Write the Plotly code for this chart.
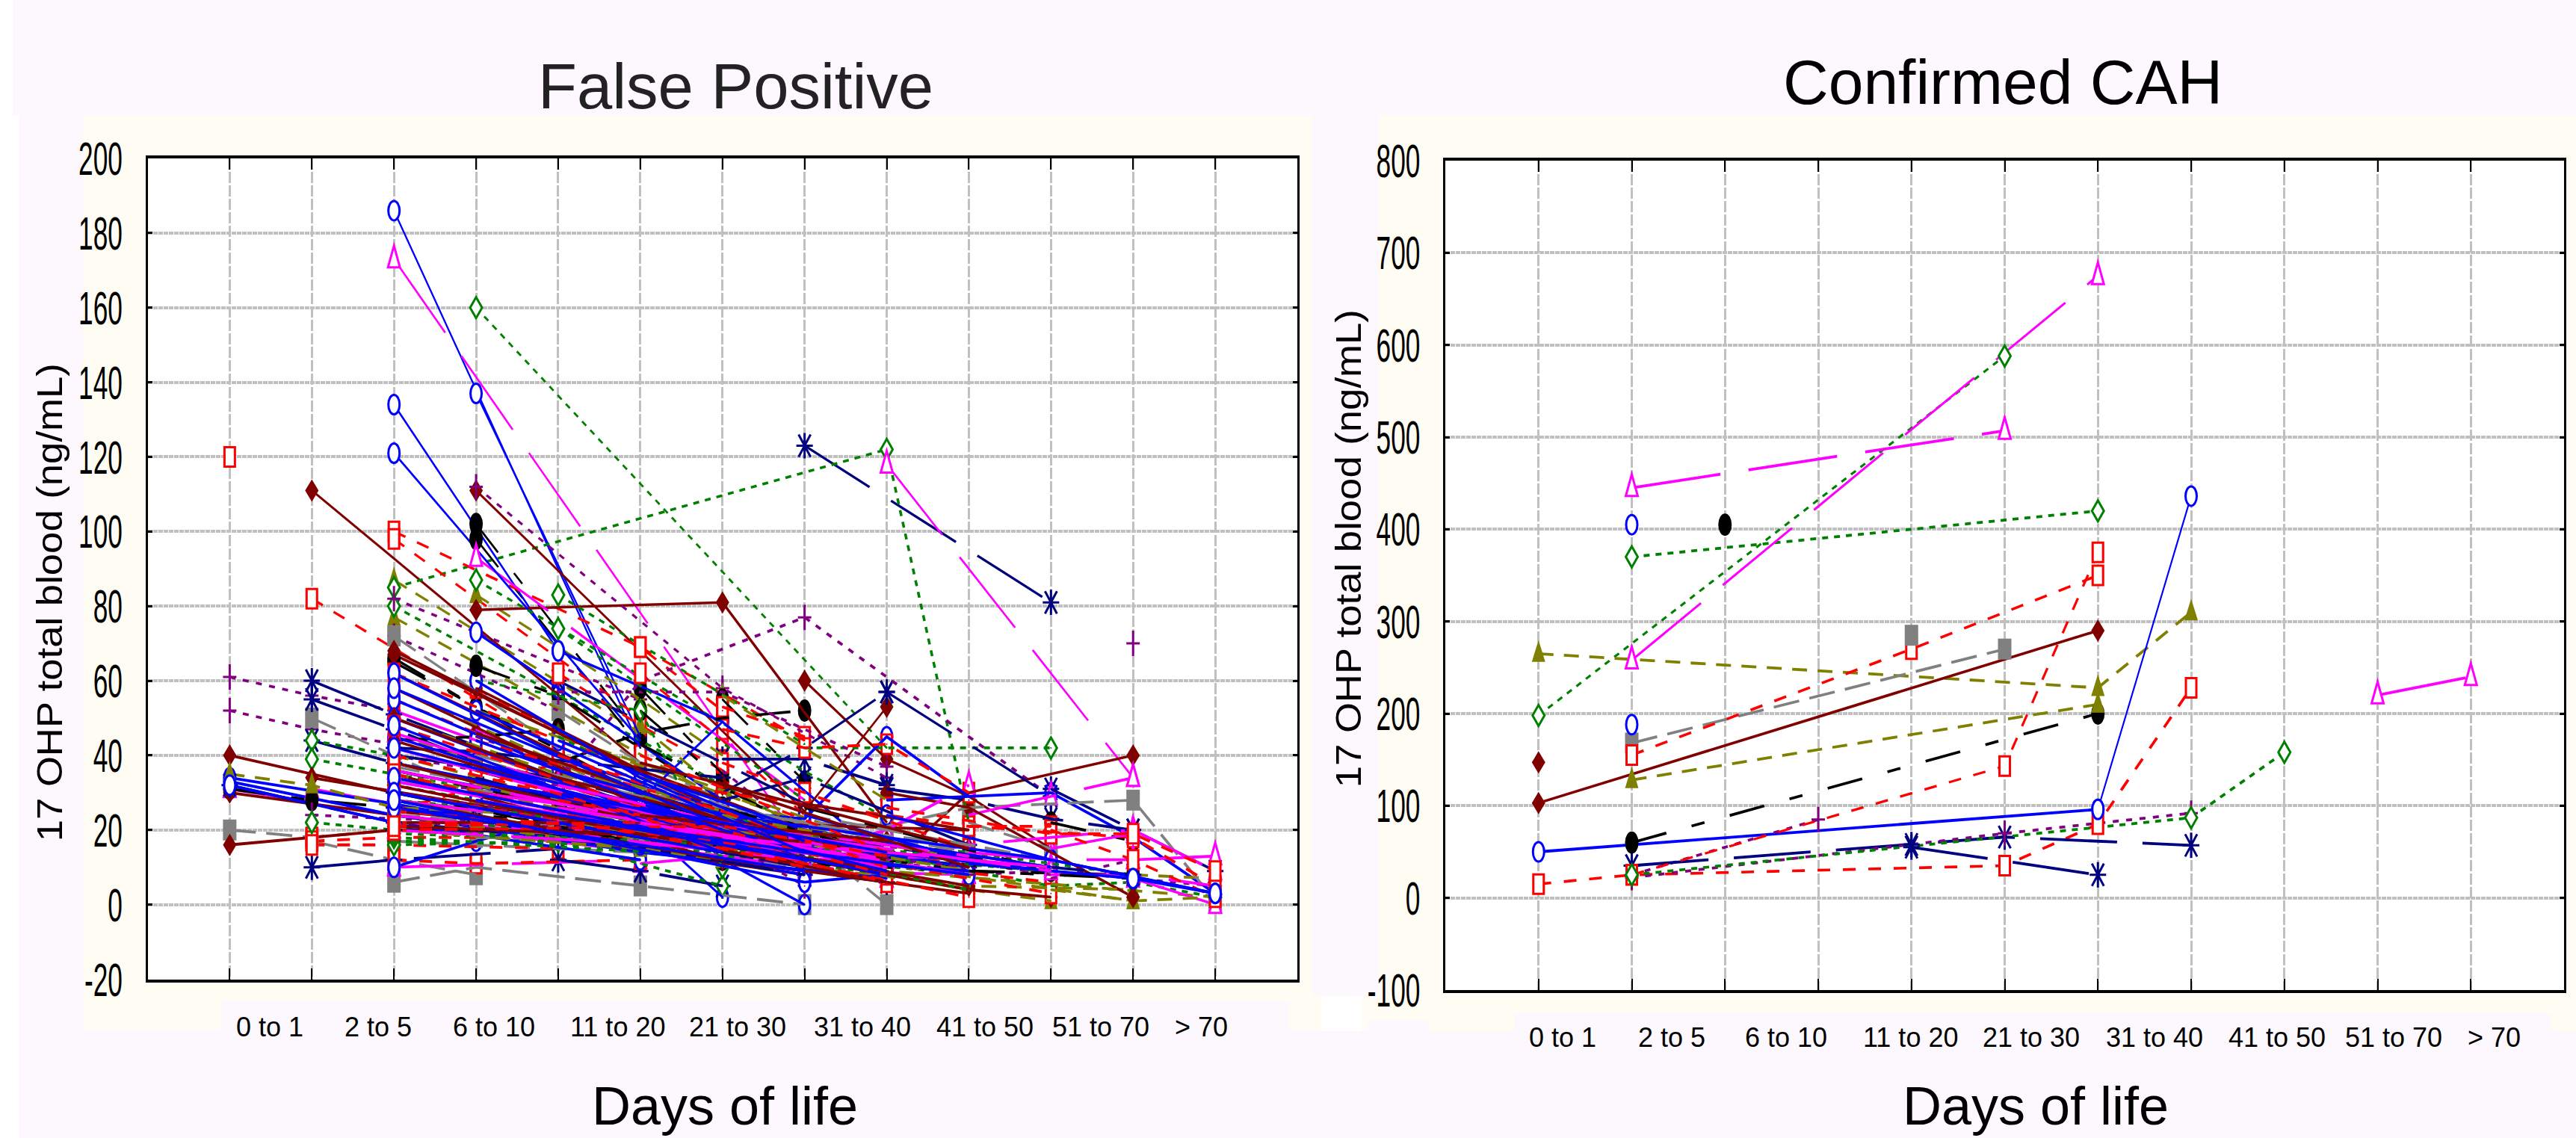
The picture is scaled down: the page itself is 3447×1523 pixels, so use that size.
import math
import plotly.graph_objects as go

W, H = 3447, 1523
days = ["0 to 1", "2 to 5", "6 to 10", "11 to 20", "21 to 30", "31 to 40", "41 to 50", "51 to 70", "> 70"]

# ---------- False Positive: one list per patient, (tick number, value) ----------
fp_blue = [
    [(3,186),(6,42)], [(4,137),(6,45)], [(3,134),(5,68)],
    [(3,121),(6,44)], [(5,68),(7,49),(9,12)], [(4,73),(5,58),(7,28),(9,8)],
    [(6,22),(7,2)], [(7,12),(8,0)], [(8,6),(9,8)],
    [(7,25),(8,23),(9,45),(10,29),(11,30),(12,18),(13,3)], [(6,28),(7,49)], [(9,28),(10,29)],
    [(1,34),(3,27),(5,19),(8,8)], [(1,33),(3,24),(6,14),(9,7)], [(1,32),(3,22),(6,12)],
    [(3,10),(4,17),(5,23)], [(3,62),(5,40),(8,16)], [(3,55),(6,27),(8,13)], [(3,50),(6,25),(9,11)],
    [(3,45),(7,17)], [(3,38),(6,24),(10,10)], [(3,36),(7,19),(11,9)], [(4,60),(6,34),(8,15)],
    [(4,38),(6,27),(9,10)], [(5,36),(7,24),(11,12),(13,3)], [(6,35),(8,20),(11,10)],
    [(9,24),(11,12),(13,3)], [(10,11),(12,7),(13,3)], [(5,30),(8,12),(10,9)], [(4,33),(7,22),(9,13)],
    [(8,24),(10,12)],
]
fp_blue_more = [[(3,58),(8,12)], [(3,48),(7,14)], [(3,42),(9,9)], [(3,34),(6,21),(9,8)], [(3,30),(7,14)],
    [(3,26),(6,16),(8,9)], [(4,52),(8,14)], [(4,44),(7,20)], [(4,28),(8,12)], [(5,44),(8,17)],
    [(5,24),(8,14),(10,8)], [(6,26),(9,14)], [(3,28),(8,6)]]
fp_red = [
    [(1,120)], [(2,82),(5,42)], [(3,100),(6,69),(7,52)], [(3,98),(6,50)],
    [(6,69),(8,44)], [(6,62),(7,44),(8,24)], [(5,62),(6,48),(7,36)], [(4,58),(6,34),(8,17)],
    [(2,18),(3,20),(8,17),(9,16)], [(2,17),(3,18),(6,18)], [(2,16),(3,16),(5,15)], [(3,12),(4,11),(6,12)],
    [(4,41),(6,26),(7,20)], [(3,62),(5,44),(8,20)], [(3,55),(6,28),(10,10)], [(7,53),(8,45)],
    [(7,47),(8,42),(9,43),(10,30)], [(3,25),(5,38),(7,30),(10,21),(12,18),(13,5)], [(10,21),(11,21)],
    [(11,20),(12,12),(13,2)], [(9,26),(11,19),(12,19),(13,9)], [(8,20),(9,11),(11,6)], [(4,44),(7,25),(9,12)],
    [(3,25),(6,20),(10,2)], [(5,32),(8,15),(11,3)], [(7,38),(8,30),(10,15)], [(6,22),(9,6)],
]
fp_red_more = [[(3,48),(8,12)], [(3,40),(6,24),(9,10)], [(3,35),(8,10)], [(3,30),(7,15)], [(4,36),(7,17)],
    [(4,30),(8,11)], [(5,40),(9,10)], [(5,28),(7,20),(9,8)], [(3,22),(5,22),(8,14)], [(3,20),(7,21),(9,13)],
    [(3,21),(6,22)], [(6,40),(9,14)]]
fp_green = [
    [(4,160),(9,42)], [(3,85),(9,122),(10,22)], [(3,80),(8,20)],
    [(4,87),(9,23)], [(5,83),(8,43)], [(5,74),(8,28)], [(8,42),(11,42)],
    [(2,44),(3,40)], [(2,39),(3,35),(4,31)], [(3,21),(6,17),(10,8)], [(2,22),(3,20),(7,14),(9,8)],
    [(3,17),(6,16)], [(3,16),(5,17),(7,5)], [(9,16),(10,14),(12,8)], [(10,9),(11,5),(12,6),(13,2)],
    [(4,60),(6,52),(7,10)], [(3,28),(6,22),(10,4)], [(5,45),(7,24),(9,14)], [(3,18),(7,13),(11,10)],
    [(6,30),(8,14),(11,9)],
]
fp_green_more = [[(3,32),(7,16)], [(4,26),(8,14)], [(5,22),(9,12)], [(7,20),(10,12)], [(3,24),(8,12)],
    [(3,19),(8,16)], [(3,20),(9,14)]]
fp_black = [
    [(4,102),(6,45)], [(4,98),(6,42)], [(3,66),(5,40),(6,32)], [(3,65),(4,53),(6,30)],
    [(4,64),(5,56),(7,28)], [(5,38),(6,46),(7,50),(8,52)], [(3,44),(4,45),(5,47)], [(1,31),(2,28),(3,26),(5,22)],
    [(6,58),(7,35)], [(6,52),(7,33)], [(7,55),(8,33)], [(3,36),(6,22),(9,10)], [(4,36),(7,18),(10,9)],
    [(6,43),(8,20),(10,9)], [(6,19),(8,14),(11,9)], [(10,9),(12,8)], [(11,22),(12,17)], [(5,26),(8,11),(12,7)],
]
fp_black_more = [[(3,30),(7,12)], [(4,28),(8,12)], [(5,30),(7,15)], [(7,26),(9,13)], [(8,26),(11,9)]]
fp_purple = [
    [(1,61),(2,56),(3,52)], [(1,52),(2,47),(3,43)], [(3,82),(6,55)], [(3,72),(5,52)],
    [(4,112),(7,58),(9,34)], [(5,32),(6,60),(8,77),(11,29)],
    [(5,57),(7,57),(9,37)], [(2,24),(3,23),(7,20),(10,8)], [(3,33),(4,31),(8,18),(11,8)],
    [(3,20),(6,20),(10,14)], [(10,8),(11,9),(13,5)], [(12,70)], [(11,7),(12,12)], [(7,36),(8,18),(9,12)],
    [(4,45),(6,30),(8,5)], [(3,40),(5,32),(8,15)], [(5,38),(7,23),(10,9)],
]
fp_purple_more = [[(3,30),(7,17)], [(4,26),(8,14)], [(5,28),(9,10)], [(6,26),(9,16)], [(3,26),(8,9)],
    [(7,17),(10,10)], [(3,22),(8,19)]]
fp_olive = [
    [(3,87),(6,46)], [(3,77),(7,28)], [(4,83),(6,55),(7,40)], [(3,58),(5,38),(8,14)],
    [(3,50),(5,35),(9,16)], [(3,45),(5,33),(8,14)], [(4,52),(6,38),(9,16)], [(5,45),(8,22),(11,8)],
    [(7,56),(8,42),(9,28)], [(3,30),(6,21),(10,4),(11,1)], [(8,10),(10,5),(12,4)], [(11,4),(12,1)],
    [(12,8),(13,7)], [(1,35),(2,32),(3,26),(5,24)], [(6,48),(7,30),(9,13)], [(4,38),(7,24),(10,9)],
    [(3,22),(6,18),(9,9),(13,2)], [(5,30),(8,14),(12,1),(13,2)],
]
fp_olive_more = [[(3,40),(7,17)], [(3,35),(8,12)], [(4,46),(8,13)], [(4,32),(7,17)], [(5,38),(9,12)],
    [(5,22),(9,11)], [(6,24),(10,9)], [(3,24),(7,12)], [(7,24),(10,12)], [(3,20),(6,15)]]
fp_navy = [
    [(8,123),(11,81)], [(2,60),(3,51),(5,34)], [(2,55),(3,47),(5,30)], [(2,44),(3,38),(5,29)], [(2,10),(3,12),(5,15)],
    [(5,60),(8,27)], [(7,39),(8,39),(9,32)], [(9,57),(11,29)], [(7,30),(8,42),(9,57)],
    [(9,31),(10,28),(11,23),(12,20)], [(11,31),(12,20),(13,9)], [(5,12),(6,9),(7,5)], [(1,32),(3,22),(5,18),(9,6)],
    [(3,20),(6,20)], [(3,42),(4,41),(7,34)], [(3,40),(5,34),(7,22)], [(7,28),(8,34),(10,16)], [(5,28),(7,18),(10,10)],
    [(8,18),(11,10),(12,8)],
]
fp_navy_more = [[(3,30),(7,14)], [(3,26),(8,8)], [(4,34),(7,16)], [(4,26),(8,10)], [(5,22),(8,10)], [(6,28),(9,12)]]
fp_gray = [
    [(1,20),(2,18)], [(2,50),(3,40),(4,30)], [(3,6),(4,10),(6,5),(8,0)], [(2,17),(3,12),(4,8)], [(3,72),(5,42)],
    [(5,52),(6,38),(7,28)], [(6,35),(8,18),(9,0)], [(3,37),(7,20),(9,15)], [(3,17),(6,14),(8,10)],
    [(3,33),(6,26),(10,16)], [(5,25),(9,21)], [(4,25),(8,20)], [(9,21),(10,26),(12,28),(13,1)], [(10,22),(11,15)],
]
fp_gray_more = [[(3,28),(8,16)], [(3,24),(7,18)], [(4,40),(8,18)], [(5,36),(9,17)], [(6,30),(10,14)],
    [(4,18),(7,17)], [(8,24),(11,12)]]
fp_darkred = [
    [(2,111),(6,38)], [(4,111),(8,25)], [(4,79),(7,81),(9,22)],
    [(8,60),(9,39),(10,29),(11,15)], [(8,25),(9,53)], [(9,10),(10,30),(12,40)], [(3,68),(5,46),(8,14)],
    [(3,67),(7,25),(9,11)], [(1,40),(3,30),(7,15)], [(1,30),(3,24),(8,8)], [(1,16),(3,20),(7,19),(8,17)],
    [(3,62),(6,30),(9,12)], [(2,34),(8,12),(10,4),(11,2)], [(9,30),(10,26),(12,2)], [(3,25),(6,19),(9,9)],
    [(4,58),(6,36),(9,12)], [(5,26),(7,22),(10,20)], [(8,27),(10,20)],
    [(3,35),(7,12),(10,3)], [(12,2)], [(4,30),(8,20),(11,10)],
]
fp_darkred_more = [[(3,58),(7,16)], [(3,50),(8,10)], [(3,44),(7,17)], [(3,38),(8,12)], [(3,32),(9,6)], [(3,28),(7,12)],
    [(4,46),(8,15)], [(4,36),(9,9)], [(5,34),(9,12)], [(3,22),(6,22),(9,14)], [(3,21),(8,17)], [(5,24),(10,5)],
    [(6,38),(10,15)], [(7,32),(10,10)], [(6,24),(9,17)]]
fp_magenta = [
    [(3,173),(8,15)], [(9,118),(12,34)], [(4,93),(8,28)], [(1,31),(3,24),(7,13),(9,7)],
    [(2,31),(4,23),(6,16)], [(3,52),(6,28),(9,12)], [(3,30),(6,19),(8,10)], [(3,26),(7,15),(9,7)], [(3,22),(8,9),(10,8)],
    [(3,10),(6,12)], [(6,11),(8,15)], [(4,47),(6,28),(8,13)], [(10,24),(11,29),(12,34)], [(9,12),(10,16),(12,20),(13,9)],
    [(12,12),(13,13)], [(11,8),(12,8),(13,5)], [(12,7),(13,0)], [(11,15),(12,19)], [(10,14),(11,12),(12,12)],
    [(3,28),(8,14),(9,20),(10,32)], [(5,25),(8,12),(10,13)], [(4,30),(8,18),(9,8)],
]
fp_magenta_more = [[(3,46),(8,12)], [(3,42),(7,18)], [(3,36),(8,14)], [(3,33),(9,10)], [(3,24),(8,12)], [(3,20),(7,15)],
    [(4,36),(8,14)], [(4,28),(9,10)], [(5,32),(9,12)], [(5,26),(10,8)], [(6,22),(9,11)], [(7,22),(10,13)],
    [(7,18),(11,10)], [(8,18),(11,9)]]

# ---------- Confirmed CAH ----------
cah_blue = [[(1,50),(7,96)], [(7,96),(8,436)], [(2,405)], [(2,188)]]
cah_red = [[(1,15),(2,25),(6,35),(7,80),(8,228)], [(2,155),(5,270),(7,350)], [(2,25),(6,143),(7,375)]]
cah_green = [[(1,198),(6,588)], [(2,370),(7,420)], [(2,25),(8,87),(9,158)]]
cah_black = [[(3,405)], [(2,60),(7,200)]]
cah_purple = [[(2,25),(4,85)], [(2,22),(6,70),(8,92)]]
cah_olive = [[(1,265),(7,228),(8,310)], [(2,128),(7,210)]]
cah_navy = [[(2,35),(5,58),(6,66),(8,57)], [(5,55),(7,25)]]
cah_gray = [[(2,168),(6,270)], [(5,285)]]
cah_darkred = [[(1,147)], [(1,103),(7,290)]]
cah_magenta = [[(2,445),(6,507)], [(2,258),(7,675)], [(10,220),(11,240)]]

# style of each group: colour, line dash, marker kind
STYLE = {
    "blue": ("#0000FF", "solid", "ring"),
    "red": ("#FF0000", "17px,17px", "box"),
    "green": ("#008000", "8px,8px", "dia_open"),
    "black": ("#000000", "48px,35px,18px,35px", "oval"),
    "purple": ("#800080", "8px,10px", "plus"),
    "olive": ("#808000", "20px,14px", "tri_fill"),
    "navy": ("#000080", "103px,34px", "star"),
    "gray": ("#808080", "35px,14px", "box_fill"),
    "darkred": ("#800000", "solid", "dia_fill"),
    "magenta": ("#FF00FF", "120px,38px", "tri_open"),
}
fp = dict(blue=fp_blue + fp_blue_more, red=fp_red + fp_red_more, green=fp_green + fp_green_more,
          black=fp_black + fp_black_more, purple=fp_purple + fp_purple_more, olive=fp_olive + fp_olive_more,
          navy=fp_navy + fp_navy_more, gray=fp_gray + fp_gray_more, darkred=fp_darkred + fp_darkred_more,
          magenta=fp_magenta + fp_magenta_more)
cah = dict(blue=cah_blue, red=cah_red, green=cah_green, black=cah_black, purple=cah_purple, olive=cah_olive,
           navy=cah_navy, gray=cah_gray, darkred=cah_darkred, magenta=cah_magenta)

PATHS = {
    "dia_open": "M 0 14 L 8 0 L 0 -14 L -8 0 Z",
    "dia_fill": "M 0 15 L 9 0 L 0 -15 L -9 0 Z",
    "tri_fill": "M 0 18 L 9 -11 L -9 -11 Z",
    "tri_open": "M 0 18 L 8 -11 L -8 -11 Z",
    "plus": "M 0 17 L 0 -17 M -9 0 L 9 0",
    "star": "M 0 17 L 0 -17 M -11 0 L 11 0 M -8 15 L 8 -15 M 8 15 L -8 -15",
    "box": "M -7 13 L 7 13 L 7 -13 L -7 -13 Z",
    "box_fill": "M -9 14 L 9 14 L 9 -14 L -9 -14 Z",
}

def marker_shape(kind, color, x, y, xr, yr, layer):
    s = dict(xref=xr, yref=yr, xsizemode="pixel", ysizemode="pixel", xanchor=x, yanchor=y, layer=layer)
    if kind in ("ring", "oval"):
        hw, hh = (7.5, 13) if kind == "ring" else (9, 15)
        s.update(type="circle", x0=-hw, x1=hw, y0=-hh, y1=hh)
    else:
        s.update(type="path", path=PATHS[kind])
    filled = kind in ("oval", "dia_fill", "tri_fill", "box_fill")
    s["line"] = dict(color=color, width=0 if filled else 3)
    s["fillcolor"] = color if filled else "#FFFFFF" if kind in ("ring", "box", "dia_open", "tri_open") else "rgba(0,0,0,0)"
    return s

fig = go.Figure()
shapes = []

def rect(x0, y0, x1, y1, color):
    shapes.append(dict(type="rect", xref="paper", yref="paper", layer="below", line=dict(width=0), fillcolor=color,
                       x0=x0 / W, x1=x1 / W, y0=1 - y1 / H, y1=1 - y0 / H))

LAV, CREAM = "#FDF8FE", "#FFFCF3"
rect(17, 0, W, 155, LAV)
rect(25, 155, W, H, LAV)
rect(111, 155, 1756, 1378, CREAM)
rect(295, 1340, 1725, 1378, LAV)
rect(1756, 1333, 1845, 1380, CREAM)
rect(1845, 155, W, 1380, CREAM)
rect(1768, 1333, 1822, 1380, "#FFFFFF")
rect(1829, 1366, 1913, 1380, LAV)
rect(2026, 1356, 3413, 1380, LAV)
rect(197.5, 212, 1739, 1316, "#FFFFFF")
rect(1934, 215, 3434, 1330, "#FFFFFF")

def add_group(groups, xa, ya, px_x, px_y, dense):
    n = max(len(v) for v in groups.values())
    marks = []
    for i in range(n):
        for name, rows in groups.items():
            if i >= len(rows):
                continue
            color, dash, kind = STYLE[name]
            xs = [p[0] for p in rows[i]]
            ys = [p[1] for p in rows[i]]
            # the reference is squeezed sideways: flat lines look thicker than steep ones
            ang = math.atan2(abs(ys[-1] - ys[0]) * px_y, max(abs(xs[-1] - xs[0]) * px_x, 1))
            width = 2.0 + 1.8 * math.cos(ang) ** 2
            fig.add_trace(go.Scatter(x=xs, y=ys, xaxis=xa, yaxis=ya, mode="lines+markers", showlegend=False,
                                     line=dict(color=color, width=width, dash=dash),
                                     marker=dict(color=color, size=2)))
            for x, y in rows[i]:
                hidden = dense and 4 <= x <= 11 and y < 62
                marks.append(marker_shape(kind, color, x, y, xa, ya, "between" if hidden else "above"))
    shapes.extend(marks)

add_group(fp, "x", "y", 110, 5, True)
add_group(cah, "x2", "y2", 124.6, 1.23, False)

def axis_x(l, r, n):
    return dict(domain=[l / W, r / W], range=[0, n + 1], tickvals=list(range(1, n + 1)), ticktext=[""] * n,
                ticks="inside", ticklen=15, tickwidth=2, tickcolor="black", showline=True, linecolor="black",
                linewidth=3.5, mirror="allticks", showgrid=True, gridcolor="#C0C0C0", gridwidth=2.5,
                griddash="15px,3px", zeroline=False, automargin=False)

def axis_y(t, b, lo, hi, step):
    vals = list(range(lo, hi + 1, step))
    return dict(domain=[1 - b / H, 1 - t / H], range=[lo, hi], tickvals=vals, ticktext=[str(v) for v in vals],
                ticks="inside", ticklen=6, tickwidth=3, tickcolor="black", showline=True, linecolor="black",
                linewidth=3, mirror="allticks", showgrid=True, gridcolor="#C0C0C0", gridwidth=4,
                griddash="6px,1px", zeroline=False, ticklabelstandoff=18, automargin=False,
                tickfont=dict(family="Liberation Sans", size=63, color="black"))

notes = []
def text(x, y, s, size, color="black", angle=0):
    notes.append(dict(xref="paper", yref="paper", x=x / W, y=1 - y / H, text=s, showarrow=False, textangle=angle,
                      xanchor="center", yanchor="middle",
                      font=dict(family="Liberation Sans", size=size, color=color)))

text(984, 115, "False Positive", 85, "#222222")
text(2680, 110, "Confirmed CAH", 84)
text(970, 1480, "Days of life", 72)
text(2724, 1480, "Days of life", 72)
text(66, 807, "17 OHP total blood (ng/mL)", 48, angle=-90)
text(1804, 735, "17 OHP total blood (ng/mL)", 48, angle=-90)
for d, cx in zip(days, [361, 506, 661, 826, 987, 1154, 1318, 1473, 1607]):
    text(cx, 1374, d, 36)
for d, cx in zip(days, [2091, 2237, 2390, 2556, 2718, 2883, 3047, 3203, 3337]):
    text(cx, 1388, d, 36)

fig.update_layout(template="none", width=W, height=H, autosize=False, margin=dict(l=0, r=0, t=0, b=0, pad=0),
                  paper_bgcolor="white", plot_bgcolor="white", shapes=shapes, annotations=notes,
                  xaxis=axis_x(197.5, 1736, 13), yaxis=axis_y(212, 1310.5, -20, 200, 20),
                  xaxis2=axis_x(1934, 3431, 11), yaxis2=axis_y(215, 1325, -100, 800, 100))
fig.layout.xaxis2.anchor = "y2"
fig.layout.yaxis2.anchor = "x2"

# The reference's axis numbers are squeezed sideways and its axis titles stretched along the text.
FIT_TEXT = """
document.body.style.margin = '0';
function fitText() {
  document.querySelectorAll('g.ytick text, g.y2tick text').forEach(function (t) {
    if (t.getAttribute('textLength')) return;
    t.setAttribute('textLength', t.getComputedTextLength() * 0.56);
    t.setAttribute('lengthAdjust', 'spacingAndGlyphs');
  });
  document.querySelectorAll('.annotation-text').forEach(function (t) {
    if (t.textContent.indexOf('17 OHP') === 0) {
      t.setAttribute('textLength', 640);
      t.setAttribute('lengthAdjust', 'spacingAndGlyphs');
    }
  });
}
fitText();
setTimeout(fitText, 100);
setTimeout(fitText, 500);
"""
fig.write_html("out.html", post_script=FIT_TEXT, config={"displayModeBar": False})
